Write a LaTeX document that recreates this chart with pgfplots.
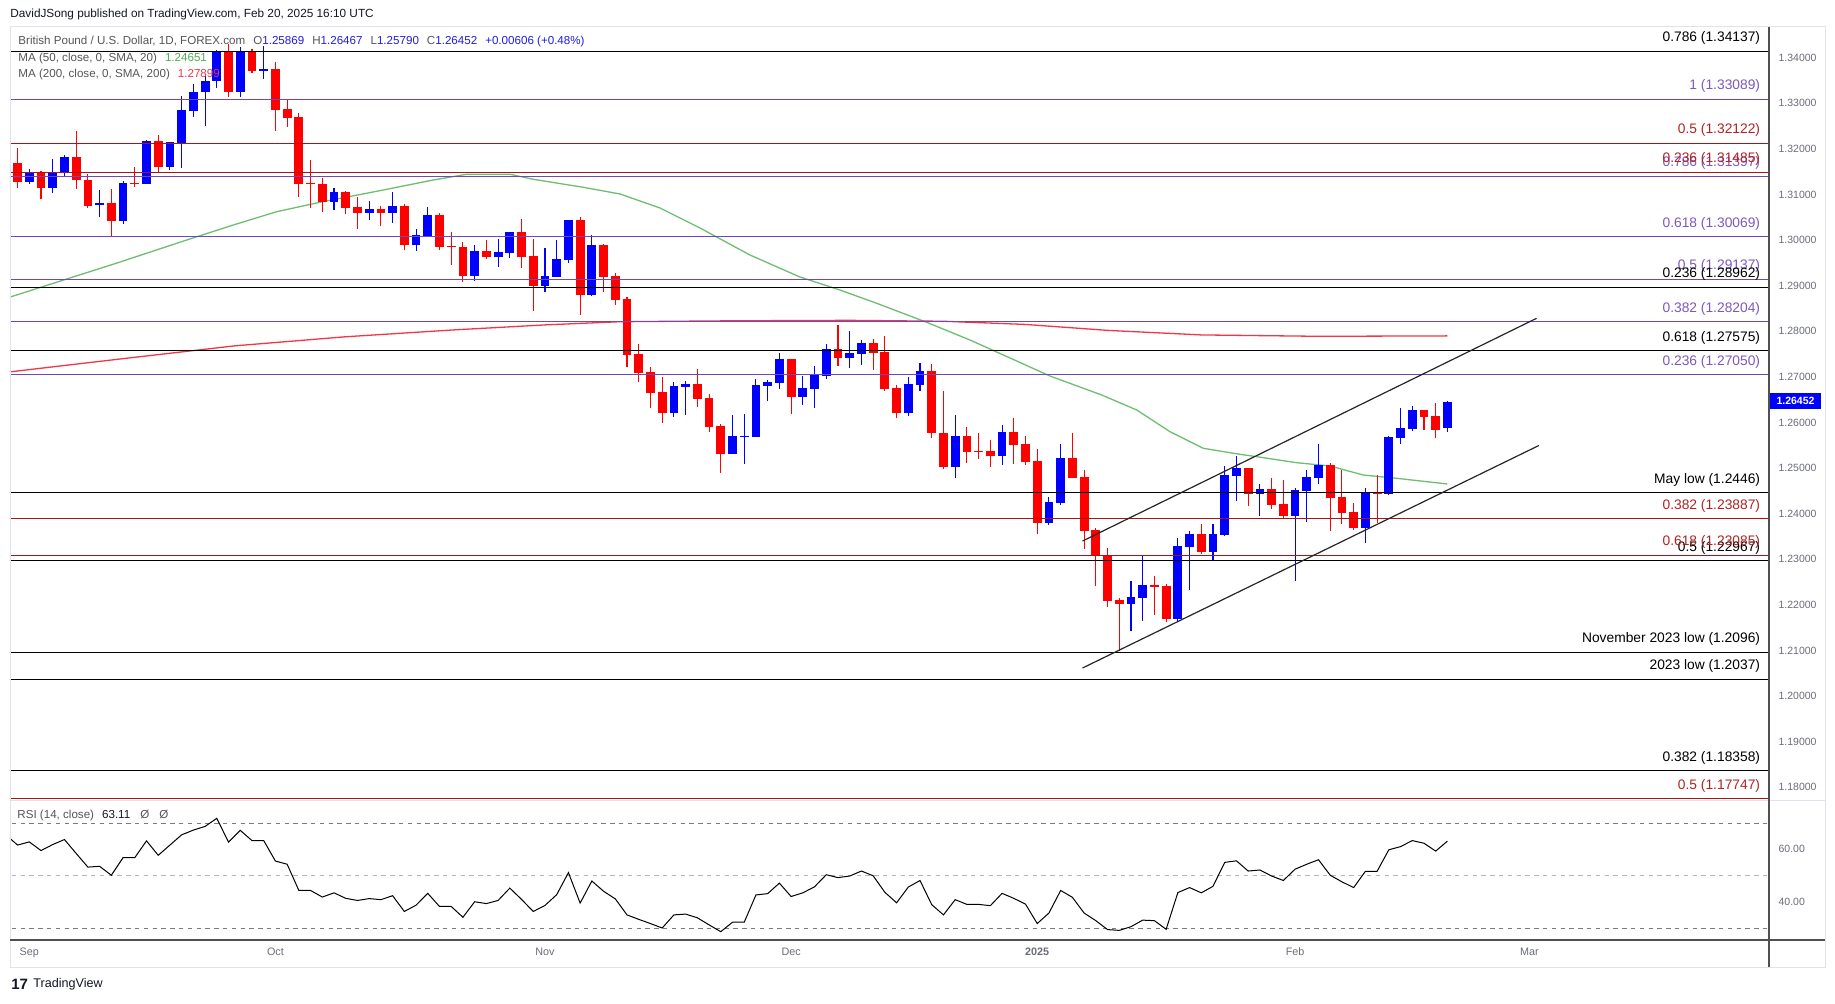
\documentclass[border=0pt]{standalone}
\usepackage{fontspec}
\setmainfont{Liberation Sans}
\usepackage{pgfplots}
\pgfplotsset{compat=1.18}
\usepackage{pgfplotstable}

\definecolor{tvblue}{RGB}{0,0,255}
\definecolor{tvred}{RGB}{255,0,0}
\definecolor{fibpurple}{RGB}{110,70,190}
\definecolor{fibpurpletxt}{RGB}{126,87,194}
\definecolor{fibred}{RGB}{170,20,20}
\definecolor{fibredtxt}{RGB}{178,34,34}
\definecolor{maGreen}{RGB}{110,190,112}
\definecolor{maGreenTxt}{RGB}{76,175,80}
\definecolor{maRed}{RGB}{242,54,69}
\definecolor{axgrey}{RGB}{106,109,120}
\definecolor{dashdark}{RGB}{120,123,134}
\definecolor{dashlight}{RGB}{178,181,190}
\definecolor{framegrey}{RGB}{224,227,235}
\definecolor{linegrey}{RGB}{80,80,80}
\definecolor{txtdark}{RGB}{19,23,34}
\definecolor{lgrey}{RGB}{85,85,90}
\definecolor{valblue}{RGB}{30,30,230}

\newcommand{\fsz}[1]{\fontsize{#1}{#1}\selectfont}

% candles: i open high low close
\pgfplotstableread{
i o h l c
0 1.31281 1.31559 1.31223 1.31486
2 1.31150 1.31786 1.31033 1.31493
3 1.31479 1.31859 1.31406 1.31830
6 1.30762 1.31099 1.30514 1.30806
8 1.30426 1.31289 1.30346 1.31245
10 1.31237 1.32195 1.31230 1.32180
12 1.31603 1.32158 1.31537 1.32151
13 1.32129 1.33160 1.31574 1.32853
14 1.32838 1.33423 1.32707 1.33248
15 1.33240 1.33630 1.32509 1.33482
16 1.33482 1.34170 1.33342 1.34154
18 1.33240 1.34242 1.33145 1.34154
20 1.33723 1.34256 1.33525 1.33745
26 1.30835 1.31142 1.30667 1.31054
29 1.30601 1.30857 1.30440 1.30682
31 1.30601 1.31054 1.30382 1.30747
33 1.29892 1.30243 1.29768 1.30112
34 1.30090 1.30725 1.30060 1.30550
38 1.29212 1.29885 1.29110 1.29760
40 1.29629 1.30024 1.29410 1.29739
41 1.29717 1.30177 1.29607 1.30177
44 1.29000 1.29826 1.28869 1.29212
45 1.29198 1.30002 1.29198 1.29585
46 1.29570 1.30440 1.29505 1.30440
48 1.28796 1.30112 1.28781 1.29892
55 1.26215 1.26880 1.26128 1.26800
56 1.26786 1.26910 1.26164 1.26837
60 1.25309 1.26164 1.25309 1.25704
61 1.25696 1.26186 1.25090 1.25704
62 1.25689 1.26954 1.25689 1.26822
63 1.26800 1.26932 1.26471 1.26888
64 1.26866 1.27531 1.26742 1.27392
66 1.26559 1.27019 1.26383 1.26756
67 1.26734 1.27239 1.26325 1.27049
68 1.27019 1.27721 1.26954 1.27611
70 1.27421 1.28006 1.27195 1.27524
71 1.27509 1.27809 1.27261 1.27743
75 1.26215 1.26990 1.26142 1.26837
76 1.26830 1.27297 1.26698 1.27129
79 1.25031 1.26164 1.24790 1.25703
83 1.25272 1.25945 1.25075 1.25791
87 1.23803 1.24366 1.23759 1.24256
88 1.24241 1.25528 1.24198 1.25221
94 1.22027 1.22524 1.21435 1.22173
95 1.22158 1.23101 1.21654 1.22436
98 1.21698 1.23459 1.21632 1.23291
99 1.23276 1.23620 1.22334 1.23547
101 1.23167 1.23774 1.22977 1.23547
102 1.23540 1.25045 1.23518 1.24848
103 1.24834 1.25265 1.24280 1.25000
105 1.24439 1.24651 1.23957 1.24541
108 1.23957 1.24556 1.22531 1.24519
109 1.24505 1.24958 1.23825 1.24805
110 1.24790 1.25528 1.24651 1.25068
114 1.23693 1.24563 1.23357 1.24475
116 1.24439 1.25704 1.24417 1.25682
117 1.25667 1.26325 1.25535 1.25879
118 1.25864 1.26369 1.25820 1.26274
121 1.25869 1.26467 1.25790 1.26452
}\upc

\pgfplotstableread{
i o h l c
-1 1.31691 1.32027 1.31135 1.31281
1 1.31486 1.31515 1.30908 1.31150
4 1.31822 1.32400 1.31128 1.31311
5 1.31318 1.31442 1.30711 1.30755
7 1.30813 1.31121 1.30060 1.30426
9 1.31252 1.31610 1.31172 1.31230
11 1.32173 1.32305 1.31493 1.31610
17 1.34132 1.34300 1.33145 1.33240
19 1.34154 1.34183 1.33671 1.33715
21 1.33745 1.33898 1.32400 1.32853
22 1.32875 1.33072 1.32473 1.32685
23 1.32699 1.32794 1.30952 1.31230
24 1.31252 1.31756 1.30711 1.31230
25 1.31230 1.31354 1.30623 1.30835
27 1.31054 1.31076 1.30579 1.30711
28 1.30725 1.30945 1.30243 1.30601
30 1.30682 1.30747 1.30309 1.30601
32 1.30747 1.30791 1.29783 1.29892
35 1.30550 1.30594 1.29783 1.29856
36 1.29870 1.30185 1.29454 1.29856
37 1.29848 1.29958 1.29088 1.29212
39 1.29760 1.30002 1.29585 1.29629
42 1.30177 1.30462 1.29395 1.29629
43 1.29651 1.30024 1.28452 1.29000
47 1.30440 1.30499 1.28364 1.28803
49 1.29892 1.29914 1.28869 1.29198
50 1.29212 1.29271 1.28576 1.28686
51 1.28708 1.28759 1.27224 1.27480
52 1.27502 1.27721 1.26895 1.27092
53 1.27107 1.27209 1.26325 1.26654
54 1.26668 1.26997 1.25996 1.26215
57 1.26844 1.27173 1.26347 1.26515
58 1.26537 1.26625 1.25799 1.25908
59 1.25923 1.25967 1.24900 1.25309
65 1.27392 1.27392 1.26186 1.26559
69 1.27611 1.28138 1.27239 1.27421
72 1.27743 1.27831 1.27151 1.27531
73 1.27545 1.27897 1.26690 1.26734
74 1.26756 1.26822 1.26106 1.26215
77 1.27129 1.27283 1.25652 1.25769
78 1.25776 1.26690 1.24987 1.25031
80 1.25703 1.25901 1.25119 1.25360
81 1.25375 1.25776 1.25207 1.25360
82 1.25375 1.25616 1.25031 1.25272
84 1.25791 1.26098 1.25097 1.25513
85 1.25528 1.25703 1.25075 1.25141
86 1.25155 1.25418 1.23562 1.23803
89 1.25221 1.25769 1.24790 1.24790
90 1.24804 1.24958 1.23233 1.23627
91 1.23642 1.23686 1.22421 1.23079
92 1.23101 1.23247 1.21946 1.22092
93 1.22100 1.22158 1.20990 1.22027
96 1.22429 1.22633 1.21785 1.22399
97 1.22407 1.22451 1.21632 1.21698
100 1.23547 1.23774 1.23108 1.23167
104 1.25002 1.25010 1.24176 1.24439
106 1.24541 1.24783 1.24110 1.24198
107 1.24212 1.24739 1.23905 1.23957
111 1.25068 1.25111 1.23627 1.24351
112 1.24366 1.24958 1.23774 1.24022
113 1.24037 1.24234 1.23642 1.23693
115 1.24468 1.24848 1.23803 1.24439
119 1.26274 1.26274 1.25835 1.26128
120 1.26142 1.26435 1.25667 1.25846
}\dnc

\pgfplotstableread{
i v
-1.65 1.28750
7.48 1.29497
13.43 1.30002
17.41 1.30331
21.11 1.30623
24.80 1.30829
30.20 1.31098
34.47 1.31318
37.32 1.31443
41.02 1.31443
43.00 1.31333
47.27 1.31158
50.40 1.31011
53.81 1.30704
57.23 1.30265
61.49 1.29673
65.76 1.29190
69.17 1.28905
72.30 1.28614
76.57 1.28197
80.26 1.27809
83.68 1.27414
87.09 1.27019
91.50 1.26603
94.49 1.26274
97.33 1.25798
100.17 1.25434
103.30 1.25302
104.73 1.25250
108.14 1.25118
110.98 1.25046
113.82 1.24848
116.67 1.24776
121 1.24651
}\maF

\pgfplotstableread{
i v
-1.65 1.27110
8 1.27400
17.5 1.27680
27 1.27880
36.2 1.28030
44 1.28140
50.4 1.28210
60 1.28230
70 1.28240
78 1.28220
85 1.28150
92 1.28020
100 1.27920
110 1.27890
121 1.27899
}\maT

\pgfplotstableread{
i r
-2 65.5
-1 61.6
0 62.8
1 59.5
2 61.8
3 63.7
4 58.4
5 53.2
6 53.5
7 50.1
8 56.8
9 56.8
10 63.2
11 57.7
12 61.6
13 65.5
14 67.3
15 68.7
16 71.8
17 62.7
18 67.2
19 63.3
20 63.3
21 55.5
22 54.3
23 44.3
24 44.3
25 41.8
26 43.4
27 41.3
28 40.5
29 41.2
30 40.8
31 42.3
32 36.3
33 38.7
34 43.2
35 38.2
36 38.2
37 34.1
38 40.0
39 39.3
40 40.5
41 45.2
42 40.9
43 36.3
44 38.6
45 42.7
46 51.1
47 39.5
48 47.9
49 44.0
50 41.1
51 35.0
52 33.3
53 31.7
54 30.0
55 35.0
56 35.3
57 33.9
58 31.2
59 28.6
60 32.2
61 32.2
62 42.6
63 43.1
64 47.1
65 42.0
66 43.4
67 45.7
68 50.3
69 49.2
70 49.8
71 51.7
72 49.9
73 43.6
74 39.6
75 45.6
76 48.1
77 38.9
78 35.0
79 40.8
80 39.0
81 39.0
82 38.5
83 43.2
84 41.3
85 39.1
86 31.7
87 35.7
88 44.3
89 41.7
90 35.7
91 32.8
92 29.4
93 29.1
94 30.5
95 33.0
96 32.8
97 29.5
98 43.5
99 45.4
100 43.4
101 45.9
102 55.0
103 55.6
104 51.7
105 52.1
106 49.8
107 48.1
108 52.4
109 54.3
110 56.0
111 50.1
112 47.6
113 45.4
114 51.6
115 51.6
116 59.8
117 61.0
118 63.3
119 62.3
120 59.3
121 63.1
}\rsi

\newcommand{\candles}[2]{%
  \addplot[draw=none, mark=none, forget plot,
    error bars/.cd, y dir=both, y explicit, error mark=none,
    error bar style={draw=#2, line width=0.55pt}]
    table[x=i, y expr={(\thisrow{h}+\thisrow{l})/2}, y error expr={(\thisrow{h}-\thisrow{l})/2}] {#1};
  \addplot[draw=none, mark=none, forget plot,
    error bars/.cd, y dir=both, y explicit, error mark=none,
    error bar style={draw=#2, line width=4.4pt}]
    table[x=i, y expr={(\thisrow{o}+\thisrow{c})/2}, y error expr={max(abs(\thisrow{c}-\thisrow{o})/2,0.00011)}] {#1};
}
\newcommand{\hl}[2]{\addplot[#1, line width=0.5pt, forget plot] coordinates {(-3,#2) (150,#2)};}
\newcommand{\fl}[3]{\node[anchor=base east, inner sep=0pt, text=#1, font=\fsz{6.9pt}] at (axis cs:147.71,#2) [yshift=4.8pt] {#3};}

\begin{document}
\begin{tikzpicture}
\path[use as bounding box, fill=white] (0,0) rectangle (917.5pt,501.5pt);

% main price panel
\begin{axis}[
  at={(5pt,101.5pt)}, anchor=south west, scale only axis,
  width=879.5pt, height=386.5pt,
  xmin=-1.647, xmax=148.44, ymin=1.17721, ymax=1.34673,
  axis line style={draw=none}, tick style={draw=none}, major tick length=0pt,
  xtick=\empty,
  ytick={1.18,1.19,1.20,1.21,1.22,1.23,1.24,1.25,1.26,1.27,1.28,1.29,1.30,1.31,1.32,1.33,1.34},
  yticklabels={1.18000,1.19000,1.20000,1.21000,1.22000,1.23000,1.24000,1.25000,1.26000,1.27000,1.28000,1.29000,1.30000,1.31000,1.32000,1.33000,1.34000},
  yticklabel pos=right,
  yticklabel style={anchor=west, inner sep=0pt, xshift=4.6pt, font=\fsz{5.25pt}, text=axgrey},
]
\addplot[maGreen, line width=0.65pt, forget plot] table[x=i, y=v] {\maF};
\addplot[maRed, line width=0.65pt, forget plot] table[x=i, y=v] {\maT};
\candles{\upc}{tvblue}
\candles{\dnc}{tvred}
% horizontal levels
\hl{black}{1.34137}
\hl{black}{1.28962}
\hl{black}{1.27575}
\hl{black}{1.2446}
\hl{black}{1.22967}
\hl{black}{1.2096}
\hl{black}{1.2037}
\hl{black}{1.18358}
\hl{fibpurple}{1.33089}
\hl{fibpurple}{1.31397}
\hl{fibpurple}{1.30069}
\hl{fibpurple}{1.29137}
\hl{fibpurple}{1.28204}
\hl{fibpurple}{1.27050}
\hl{fibred}{1.32122}
\hl{fibred}{1.31485}
\hl{fibred}{1.23887}
\hl{fibred}{1.23085}
\hl{fibred}{1.17747}
% channel
\addplot[black!85, line width=0.6pt, forget plot] coordinates {(89.87,1.23401) (128.61,1.28285)};
\addplot[black!85, line width=0.6pt, forget plot] coordinates {(89.87,1.20616) (128.8,1.25495)};
% labels
\fl{black}{1.34137}{0.786 (1.34137)}
\fl{fibpurpletxt}{1.33089}{1 (1.33089)}
\fl{fibredtxt}{1.32122}{0.5 (1.32122)}
\fl{fibpurpletxt}{1.31397}{0.786 (1.31397)}
\fl{fibredtxt}{1.31485}{0.236 (1.31485)}
\fl{fibpurpletxt}{1.30069}{0.618 (1.30069)}
\fl{fibpurpletxt}{1.29137}{0.5 (1.29137)}
\fl{black}{1.28962}{0.236 (1.28962)}
\fl{fibpurpletxt}{1.28204}{0.382 (1.28204)}
\fl{black}{1.27575}{0.618 (1.27575)}
\fl{fibpurpletxt}{1.27050}{0.236 (1.27050)}
\fl{black}{1.2446}{May low (1.2446)}
\fl{fibredtxt}{1.23887}{0.382 (1.23887)}
\fl{black}{1.22967}{0.5 (1.22967)}
\fl{fibredtxt}{1.23085}{0.618 (1.23085)}
\fl{black}{1.2096}{November 2023 low (1.2096)}
\fl{black}{1.2037}{2023 low (1.2037)}
\fl{black}{1.18358}{0.382 (1.18358)}
\fl{fibredtxt}{1.17747}{0.5 (1.17747)}
\end{axis}

% RSI panel
\begin{axis}[
  at={(5pt,31.5pt)}, anchor=south west, scale only axis,
  width=879.5pt, height=70pt,
  xmin=-1.647, xmax=148.44, ymin=25.43, ymax=78.76,
  axis line style={draw=none}, tick style={draw=none}, major tick length=0pt,
  xtick={0,21,44,65,86,108,128},
  xticklabels={Sep,Oct,Nov,Dec,\textbf{2025},Feb,Mar},
  xticklabel style={anchor=base, inner sep=0pt, yshift=-7.9pt, font=\fsz{5.4pt}, text=axgrey},
  ytick={40,60}, yticklabels={40.00,60.00},
  yticklabel pos=right,
  yticklabel style={anchor=west, inner sep=0pt, xshift=4.6pt, font=\fsz{5.25pt}, text=axgrey},
]
\addplot[dashdark, line width=0.5pt, dash pattern=on 2.2pt off 2.2pt, forget plot] coordinates {(-3,70) (150,70)};
\addplot[dashlight, line width=0.5pt, dash pattern=on 2.2pt off 2.2pt, forget plot] coordinates {(-3,50) (150,50)};
\addplot[dashdark, line width=0.5pt, dash pattern=on 2.2pt off 2.2pt, forget plot] coordinates {(-3,30) (150,30)};
\addplot[black, line width=0.5pt, forget plot] table[x=i, y=r] {\rsi};
\end{axis}

% frames
\draw[framegrey, line width=0.5pt] (5pt,18pt) rectangle (912.5pt,488pt);
\draw[framegrey, line width=0.5pt] (5pt,101.5pt) -- (912.5pt,101.5pt);
\draw[linegrey, line width=0.6pt] (5pt,31.5pt) -- (912.5pt,31.5pt);
\draw[linegrey, line width=0.6pt] (884.5pt,18pt) -- (884.5pt,488pt);

% current price tag
\fill[tvblue] (885pt,297pt) rectangle (910.5pt,305pt);
\node[text=white, inner sep=0pt, font=\fsz{5.25pt}\bfseries] at (897.75pt,301pt) {1.26452};

% header and legend texts
\node[anchor=west, inner sep=0pt, text=txtdark, font=\fsz{5.9pt}] at (5pt,494.5pt)
  {DavidJSong published on TradingView.com, Feb 20, 2025 16:10 UTC};
\node[anchor=west, inner sep=0pt, text=lgrey, font=\fsz{5.8pt}] at (9pt,480.5pt)
  {British Pound / U.S. Dollar, 1D, FOREX.com\hspace{4pt}O\textcolor{valblue}{1.25869}\hspace{4pt}H\textcolor{valblue}{1.26467}\hspace{4pt}L\textcolor{valblue}{1.25790}\hspace{4pt}C\textcolor{valblue}{1.26452}\hspace{4pt}\textcolor{valblue}{+0.00606 (+0.48\%)}};
\node[anchor=west, inner sep=0pt, text=lgrey, font=\fsz{5.8pt}] at (9pt,472pt)
  {MA (50, close, 0, SMA, 20)\hspace{4pt}\textcolor{maGreenTxt}{1.24651}};
\node[anchor=west, inner sep=0pt, text=lgrey, font=\fsz{5.8pt}] at (9pt,464pt)
  {MA (200, close, 0, SMA, 200)\hspace{4pt}\textcolor{maRed}{1.27899}};
\node[anchor=west, inner sep=0pt, text=lgrey, font=\fsz{5.8pt}] at (8.5pt,94pt)
  {RSI (14, close)\hspace{4pt}\textcolor{txtdark}{63.11}\hspace{5pt}Ø\hspace{5pt}Ø};
\node[anchor=west, inner sep=0pt, text=txtdark, font=\fsz{7.5pt}\bfseries] at (5.5pt,9.5pt) {17};
\node[anchor=west, inner sep=0pt, text=txtdark, font=\fsz{6.3pt}] at (16.5pt,9.5pt) {TradingView};
\end{tikzpicture}
\end{document}
